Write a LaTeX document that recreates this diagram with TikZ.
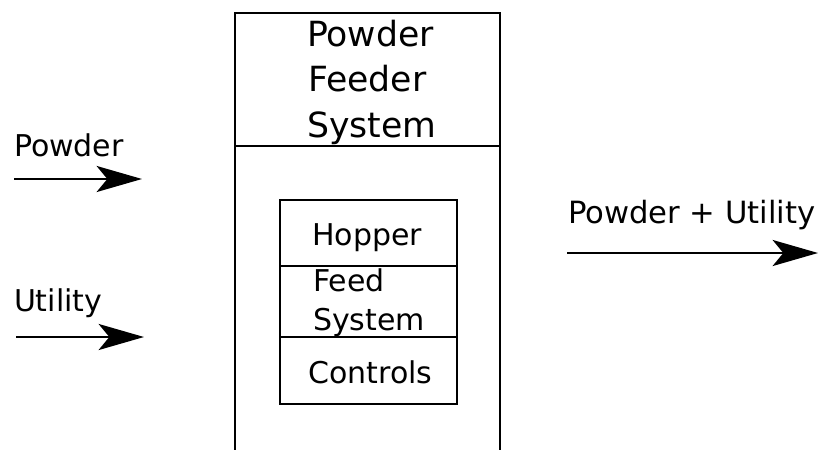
\documentclass[tikz,border=0pt]{standalone}
\usepackage{fontspec}
\setmainfont{DejaVu Sans}
\usetikzlibrary{positioning}
\usetikzlibrary{arrows.meta}
\tikzset{>={Stealth[length=34pt, width=19.5pt, inset=8pt]}}
\tikzset{lbl/.style={inner sep=0pt, outer sep=0pt, font=\fontsize{22.5}{29}\selectfont}}
\tikzset{ttl/.style={lbl, anchor=base west, font=\fontsize{26}{34}\selectfont}}
\tikzset{flow/.style={->, line width=2pt}}

\begin{document}
\begin{tikzpicture}[x=0.75pt, y=-0.75pt, line width=1pt]
\useasboundingbox (0, 0) rectangle (819, 450);
% feeder housing, open at the bottom
\draw (235, 450) -- (235, 13) -- (500, 13) -- (500, 450);
\draw (235, 146) -- (500, 146);
\node[ttl] (ttlA) at (307, 46) {Powder};
\node[ttl] (ttlB) at (308, 91.5) {Feeder};
\node[ttl] (ttlC) at (307, 137) {System};
% parts
\draw (280, 200) rectangle (457, 404);
\draw (280, 266) -- (457, 266);
\draw (280, 337) -- (457, 337);
\node[lbl, anchor=base] (hopper) at (367, 245) {Hopper};
\node[lbl, anchor=base west] (feedA) at (313, 291.5) {Feed};
\node[lbl, anchor=base west] (feedB) at (313, 330) {System};
\node[lbl, anchor=base] (controls) at (370.5, 383) {Controls};
% inputs
\node[lbl, anchor=base west] (powder) at (14, 156) {Powder};
\coordinate (powS) at (14, 179);
\coordinate (powE) at (142, 179);
\draw[flow] (powS) -- (powE);
\node[lbl, anchor=base west] (utility) at (14, 311) {Utility};
\coordinate (utlS) at (16, 337);
\coordinate (utlE) at (144, 337);
\draw[flow] (utlS) -- (utlE);
% output
\node[lbl, anchor=base west, font=\fontsize{23}{29}\selectfont] (output) at (568, 223) {Powder + Utility};
\coordinate (outS) at (567, 253);
\coordinate (outE) at (818, 253);
\draw[flow] (outS) -- (outE);
\end{tikzpicture}
\end{document}
